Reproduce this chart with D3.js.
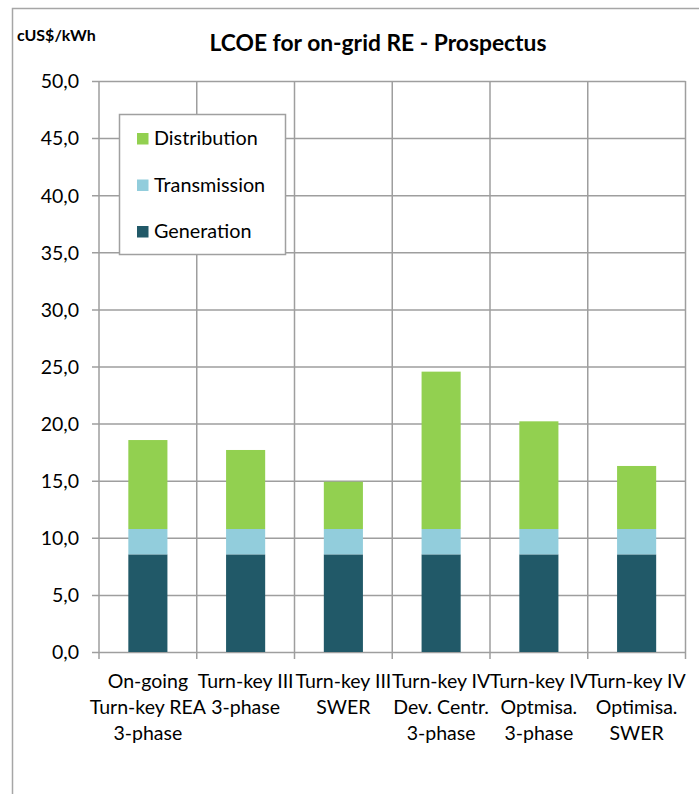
<!DOCTYPE html>
<html>
<head>
<meta charset="utf-8">
<script src="https://cdn.jsdelivr.net/npm/d3@7"></script>
<style>
  html, body { margin: 0; padding: 0; background: #fff; }
  svg { display: block; }
  text { font-family: Lato, "Open Sans", sans-serif; fill: #000; }
</style>
</head>
<body>
<svg id="chart" width="699" height="794"></svg>
<script>
// ---- data ----
const categories = [
  ["On-going", "Turn-key REA", "3-phase"],
  ["Turn-key III", "3-phase"],
  ["Turn-key III", "SWER"],
  ["Turn-key IV", "Dev. Centr.", "3-phase"],
  ["Turn-key IV", "Optmisa.", "3-phase"],
  ["Turn-key IV", "Optimisa.", "SWER"]
];
const seriesNames = ["Generation", "Transmission", "Distribution"];
const generation   = [8.55, 8.55, 8.55, 8.55, 8.55, 8.55];
const transmission = [2.22, 2.22, 2.22, 2.22, 2.22, 2.22];
const distribution = [7.79, 6.92, 4.14, 13.78, 9.43, 5.52];
const yTicks = [0, 5, 10, 15, 20, 25, 30, 35, 40, 45, 50];
const colors = { Generation: "#215968", Transmission: "#92cddc", Distribution: "#92d050" };
const title = "LCOE for on-grid RE - Prospectus";
const unitLabel = "cUS$/kWh";
const legendOrder = ["Distribution", "Transmission", "Generation"];

// ---- layout ----
const svg = d3.select("#chart");
const plot = { left: 99, right: 685.5, top: 81, bottom: 652 };
const gridColor = "#9e9e9e";

const rows = categories.map((c, i) => ({
  key: i,
  Generation: generation[i],
  Transmission: transmission[i],
  Distribution: distribution[i]
}));

const x = d3.scaleBand()
  .domain(rows.map(d => d.key))
  .range([plot.left, plot.right])
  .paddingInner(0.6)
  .paddingOuter(0.3);

const y = d3.scaleLinear().domain([0, 50]).range([plot.bottom, plot.top]);

// outer chart border
svg.append("rect")
  .attr("x", 12.5).attr("y", 8.5)
  .attr("width", 720).attr("height", 820)
  .attr("fill", "#fff")
  .attr("stroke", "#a6a6a6").attr("stroke-width", 1.5);

// horizontal gridlines + y ticks via axis
const yAxis = d3.axisLeft(y)
  .tickValues(yTicks)
  .tickSize(plot.right - plot.left + 7)
  .tickPadding(12)
  .tickFormat(d => d3.format(".1f")(d).replace(".", ","));

const gy = svg.append("g")
  .attr("transform", `translate(${plot.right},0)`)
  .call(yAxis);
gy.select(".domain").remove();
gy.selectAll(".tick line").attr("stroke", gridColor).attr("stroke-width", 1.5);
gy.selectAll(".tick text")
  .attr("font-size", 19.5)
  .attr("dy", "0.35em")
  .attr("x", -(plot.right - plot.left) - 20);

// vertical gridlines at category boundaries (including ticks below axis)
const boundaries = d3.range(categories.length + 1);
const step = x.step();
svg.append("g").selectAll("line")
  .data(boundaries)
  .join("line")
  .attr("x1", i => plot.left + i * step)
  .attr("x2", i => plot.left + i * step)
  .attr("y1", plot.top)
  .attr("y2", plot.bottom + 7)
  .attr("stroke", gridColor).attr("stroke-width", 1.5);

// stacked bars
const stack = d3.stack().keys(seriesNames);
const stacked = stack(rows);
svg.append("g").selectAll("g")
  .data(stacked)
  .join("g")
  .attr("fill", d => colors[d.key])
  .selectAll("rect")
  .data(d => d)
  .join("rect")
  .attr("x", d => x(d.data.key))
  .attr("width", x.bandwidth())
  .attr("y", d => y(d[1]))
  .attr("height", d => y(d[0]) - y(d[1]));

// x labels
const xl = svg.append("g");
categories.forEach((lines, i) => {
  const cx = x(i) + x.bandwidth() / 2;
  const t = xl.append("text")
    .attr("text-anchor", "middle")
    .attr("font-size", 19.5);
  lines.forEach((ln, j) => {
    t.append("tspan").attr("x", cx).attr("y", 688 + j * 26).text(ln);
  });
});

// legend
const lg = svg.append("g");
lg.append("rect")
  .attr("x", 119.5).attr("y", 114.5)
  .attr("width", 166).attr("height", 140)
  .attr("fill", "#fff")
  .attr("stroke", "#a0a0a0").attr("stroke-width", 1.5);
legendOrder.forEach((name, i) => {
  const cy = 138.5 + i * 46.5;
  lg.append("rect")
    .attr("x", 137).attr("y", cy - 5.5)
    .attr("width", 11.5).attr("height", 11.5)
    .attr("fill", colors[name]);
  lg.append("text")
    .attr("x", 154).attr("y", cy)
    .attr("dy", "0.35em")
    .attr("font-size", 19.8)
    .text(name);
});

// title & unit label
svg.append("text")
  .attr("x", 378).attr("y", 51)
  .attr("text-anchor", "middle")
  .attr("font-size", 22.8)
  .attr("font-weight", "bold")
  .text(title);

svg.append("text")
  .attr("x", 17).attr("y", 41)
  .attr("font-size", 16)
  .attr("font-weight", "bold")
  .text(unitLabel);
</script>
</body>
</html>
